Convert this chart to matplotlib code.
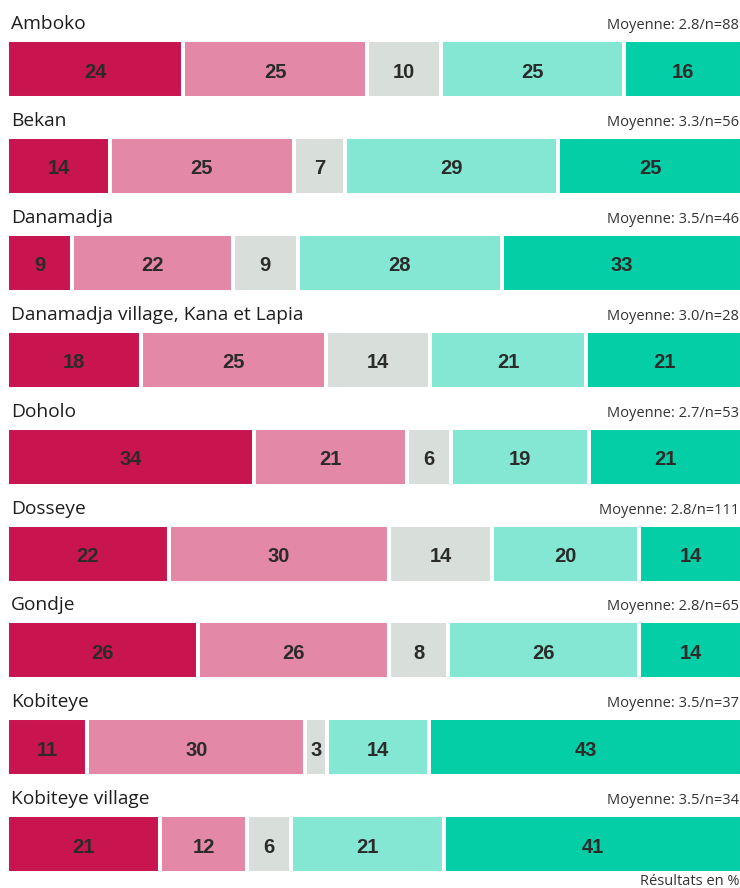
import numpy as np
import matplotlib
matplotlib.use("Agg")
import matplotlib.pyplot as plt

# ------------------ DATA ------------------
LOCATIONS = ['Amboko', 'Bekan', 'Danamadja', 'Danamadja village, Kana et Lapia',
             'Doholo', 'Dosseye', 'Gondje', 'Kobiteye', 'Kobiteye village']
MEANS = ['2.8', '3.3', '3.5', '3.0', '2.7', '2.8', '2.8', '3.5', '3.5']
COUNTS = [88, 56, 46, 28, 53, 111, 65, 37, 34]

# one list per answer category (worst -> best)
CAT1 = [24, 14, 9, 18, 34, 22, 26, 11, 21]
CAT2 = [25, 25, 22, 25, 21, 30, 26, 30, 12]
CAT3 = [10, 7, 9, 14, 6, 14, 8, 3, 6]
CAT4 = [25, 29, 28, 21, 19, 20, 26, 14, 21]
CAT5 = [16, 25, 33, 21, 21, 14, 14, 43, 41]

COLORS = ['#C8154F', '#E388A6', '#D8DFDA', '#83E7D3', '#03CEA6']

# ------------------ PLOT ------------------
W, H = 740, 888
ROW = 96.9          # pixel distance between rows
FIRST = 69          # pixel centre of first bar

fig = plt.figure(figsize=(W / 100, H / 100), dpi=100)
ax = fig.add_axes([7 / W, 0, 735 / W, 1])
ax.set_xlim(0, 100)
top = -FIRST / ROW
bottom = (H - FIRST) / ROW
ax.set_ylim(bottom, top)
ax.axis('off')

values = np.array([CAT1, CAT2, CAT3, CAT4, CAT5], dtype=float)
totals = values.sum(axis=0)
shares = values / totals * 100
rows = np.arange(len(LOCATIONS))

left = np.zeros(len(LOCATIONS))
for k in range(len(COLORS)):
    ax.barh(rows, shares[k], left=left, height=58 / ROW, color=COLORS[k],
            edgecolor='white', linewidth=2.9)
    for i in rows:
        ax.text(left[i] + shares[k][i] / 2, i + 8.5 / ROW, f"{int(values[k][i])}",
                ha='center', va='baseline', fontsize=14.5, fontweight='bold',
                family='Liberation Sans', color='#2b2b2b')
    left += shares[k]

for i, name in enumerate(LOCATIONS):
    ax.text(0.5, i - 40 / ROW, name, ha='left', va='baseline', fontsize=13.8,
            family='Open Sans', color='#1e1e1e')
    ax.text(99.6, i - 40 / ROW, f"Moyenne: {MEANS[i]}/n={COUNTS[i]}",
            ha='right', va='baseline', fontsize=10.5, family='Open Sans', color='#333333')

ax.text(99.6, len(LOCATIONS) - 1 + 41 / ROW, "Résultats en %", ha='right',
        va='baseline', fontsize=10.5, family='Open Sans', color='#333333')

fig.savefig('out.png', dpi=100)
